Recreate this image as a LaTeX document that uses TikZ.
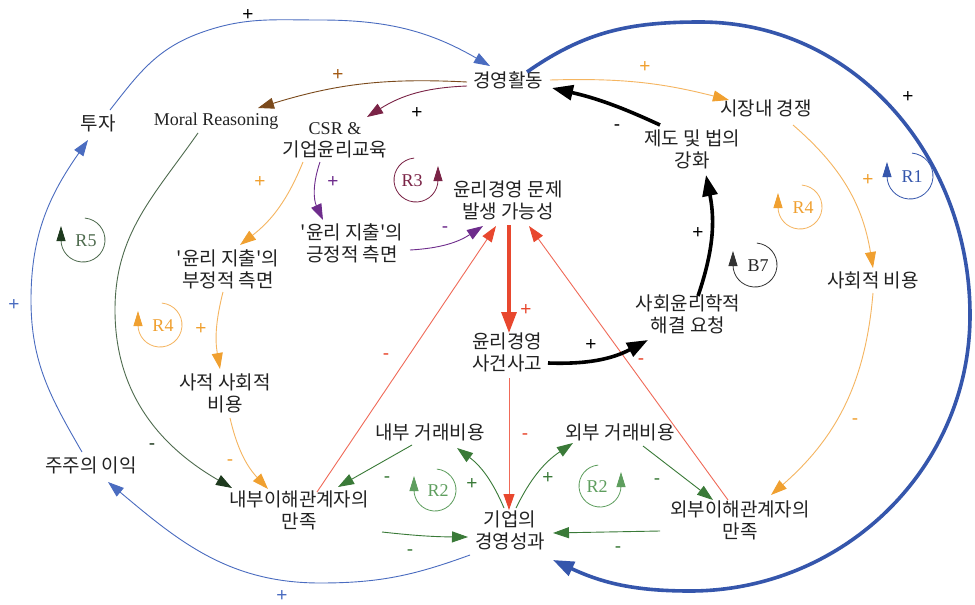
\documentclass[tikz,border=0pt]{standalone}
\usepackage{fontspec}
\setmainfont{Liberation Serif}
\setsansfont{Liberation Sans}
\newfontfamily\kr{Noto Sans CJK KR}
\usetikzlibrary{arrows.meta}
\definecolor{cblue}{HTML}{3556AC}
\definecolor{cbluel}{HTML}{4A6CC0}
\definecolor{cbrown}{HTML}{7B4A1C}
\definecolor{cmaroon}{HTML}{7A2346}
\definecolor{cpurple}{HTML}{6E2C8C}
\definecolor{corange}{HTML}{F0A030}
\definecolor{corangel}{HTML}{F5B560}
\definecolor{cdgreen}{HTML}{1E3A1E}
\definecolor{cdgreenl}{HTML}{4E6B4E}
\definecolor{cgreen}{HTML}{3A7A38}
\definecolor{cgreenl}{HTML}{5E9E5E}
\definecolor{cred}{HTML}{E8472E}
\definecolor{credl}{HTML}{F06A58}
\definecolor{ctext}{HTML}{222222}
\begin{document}
\begin{tikzpicture}[x=1pt,y=1pt,
 lab/.style={font=\kr\fontsize{19}{22}\selectfont, text=ctext, align=center, inner sep=0pt},
 lat/.style={font=\rmfamily\fontsize{18}{22}\selectfont, text=ctext, align=center, inner sep=0pt},
 pol/.style={font=\sffamily\fontsize{19}{19}\selectfont, inner sep=0pt},
 conn/.style={line width=0.9pt,-{Triangle[length=16pt,width=11pt]}},
 bigconn/.style={line width=3.6pt,-{Triangle[length=21pt,width=15pt]}},
 oconn/.style={line width=0.9pt, corangel, -{Triangle[length=16pt,width=11pt,color=corange]}},
 loopline/.style={line width=0.8pt,-{Triangle[length=15pt,width=9pt]}},
 looplab/.style={font=\rmfamily\fontsize{18}{18}\selectfont, inner sep=0pt},
]
\useasboundingbox (0,0) rectangle (975,-605);
\fill[white] (0,0) rectangle (975,-605);

% ---------- nodes ----------
\node[lab] (act) at (508,-80) {경영활동};
\node[lat] (moral) at (216,-121) {Moral Reasoning};
\node[lab] (csr) at (335,-140) {{\rmfamily\fontsize{18}{22}\selectfont CSR \&}\\기업윤리교육};
\node[lab] (prob) at (508,-200) {윤리경영 문제\\발생 가능성};
\node[lab] (pos) at (352,-243) {'윤리 지출'의\\긍정적 측면};
\node[lab] (neg) at (228,-269) {'윤리 지출'의\\부정적 측면};
\node[lab] (priv) at (225,-393) {사적 사회적\\비용};
\node[lab] (invest) at (98,-123) {투자};
\node[lab] (share) at (91,-465) {주주의 이익};
\node[lab] (intsat) at (299,-510) {내부이해관계자의\\만족};
\node[lab] (inttc) at (430,-432) {내부 거래비용};
\node[lab] (exttc) at (620,-432) {외부 거래비용};
\node[lab] (perf) at (510,-530) {기업의\\경영성과};
\node[lab] (extsat) at (740,-520) {외부이해관계자의\\만족};
\node[lab] (inc) at (507,-352) {윤리경영\\사건사고};
\node[lab] (req) at (688,-314) {사회윤리학적\\해결 요청};
\node[lab] (inst) at (692,-149) {제도 및 법의\\강화};
\node[lab] (comp) at (766,-108) {시장내 경쟁};
\node[lab] (soc) at (873,-280) {사회적 비용};

% waypoints
\coordinate (bw1) at (700,-22);
\coordinate (bw2) at (970,-315);
\coordinate (bw3) at (690,-591);
\coordinate (tw1) at (200,-33);
\coordinate (tw2) at (320,-20);
\coordinate (lw1) at (31,-300);
\coordinate (dw1) at (320,-583);
\coordinate (gw1) at (115,-310);

% ---------- blue loops ----------
\draw[bigconn, cblue] ([shift={(19,8)}]act.center) to[out=35,in=180] (bw1) to[out=0,in=90] (bw2) to[out=-90,in=0] (bw3) to[out=180,in=-25] ([shift={(43,-30)}]perf.center);
\draw[conn, cbluel] ([shift={(12,13)}]invest.center) to[out=52,in=-160] (tw1) to[out=20,in=180] (tw2) to[out=0,in=150] ([shift={(-18,14)}]act.center);
\draw[conn, cbluel] ([shift={(-9,13)}]share.center) to[out=120,in=-90] (lw1) to[out=90,in=-125] ([shift={(-10,-17)}]invest.center);
\draw[conn, cbluel] ([shift={(-40,-25)}]perf.center) to[out=-160,in=0] (dw1) to[out=180,in=-40] ([shift={(17,-17)}]share.center);

% ---------- top-left ----------
\draw[conn, cbrown] ([shift={(-41,-2)}]act.center) to[bend right=10] ([shift={(42,13)}]moral.center);
\draw[conn, cmaroon] ([shift={(-41,-6)}]act.center) to[bend right=15] ([shift={(32,23)}]csr.center);
\draw[conn, cdgreenl, -{Triangle[length=16pt,width=11pt,color=cdgreen]}] ([shift={(-18,-12)}]moral.center) to[out=-125,in=90] (gw1) to[out=-90,in=150] ([shift={(-67,22)}]intsat.center);
\draw[oconn] ([shift={(-32,-22)}]csr.center) to[bend left=15] ([shift={(12,24)}]neg.center);
\draw[conn, cpurple] ([shift={(-15,-22)}]csr.center) to[bend right=22] ([shift={(-29,23)}]pos.center);
\draw[conn, cpurple] ([shift={(58,-7)}]pos.center) to[bend right=15] ([shift={(-25,-26)}]prob.center);
\draw[oconn] ([shift={(-5,-23)}]neg.center) to[bend right=12] ([shift={(-5,24)}]priv.center);
\draw[oconn] ([shift={(5,-25)}]priv.center) to[bend right=15] ([shift={(-31,21)}]intsat.center);

% ---------- red ----------
\draw[conn, credl, -{Triangle[length=16pt,width=11pt,color=cred]}] ([shift={(18,18)}]intsat.center) -- ([shift={(-12,-26)}]prob.center);
\draw[conn, credl, -{Triangle[length=16pt,width=11pt,color=cred]}] ([shift={(-12,20)}]extsat.center) -- ([shift={(21,-26)}]prob.center);
\draw[bigconn, cred, line width=3.2pt] ([shift={(1,-25)}]prob.center) -- ([shift={(2,19)}]inc.center);
\draw[conn, credl, -{Triangle[length=16pt,width=11pt,color=cred]}] ([shift={(2,-26)}]inc.center) -- ([shift={(-1,20)}]perf.center);

% ---------- black ----------
\draw[bigconn, black] ([shift={(41,-11)}]inc.center) to[bend right=15] ([shift={(-40,-26)}]req.center);
\draw[bigconn, black] ([shift={(10,18)}]req.center) to[bend right=15] ([shift={(14,-26)}]inst.center);
\draw[bigconn, black] ([shift={(-32,24)}]inst.center) to[bend right=6] ([shift={(44,-8)}]act.center);

% ---------- orange right ----------
\draw[oconn] ([shift={(42,0)}]act.center) to[bend left=8] ([shift={(-37,8)}]comp.center);
\draw[oconn] ([shift={(27,-17)}]comp.center) to[bend left=20] ([shift={(0,12)}]soc.center);
\draw[oconn] ([shift={(0,-13)}]soc.center) to[bend left=22] ([shift={(31,25)}]extsat.center);

% ---------- green ----------
\draw[conn, cgreen] ([shift={(-18,-13)}]inttc.center) -- ([shift={(39,23)}]intsat.center);
\draw[conn, cgreen] ([shift={(-6,22)}]perf.center) to[bend right=15] ([shift={(27,-16)}]inttc.center);
\draw[conn, cgreen] ([shift={(6,22)}]perf.center) to[bend left=15] ([shift={(-47,-11)}]exttc.center);
\draw[conn, cgreen] ([shift={(23,-14)}]exttc.center) -- ([shift={(-27,20)}]extsat.center);
\draw[conn, cgreen] ([shift={(83,-22)}]intsat.center) to[bend right=3] ([shift={(-42,-7)}]perf.center);
\draw[conn, cgreen] ([shift={(-80,-11)}]extsat.center) -- ([shift={(43,-3)}]perf.center);

% ---------- polarity labels ----------
\node[pol, black] (s1) at (248,-15) {+};
\node[pol, black] (s2) at (908,-97) {+};
\node[pol, cbluel] (s3) at (14,-305) {+};
\node[pol, cbluel] (s4) at (282,-596) {+};
\node[pol, cbrown!70!orange] (s5) at (338,-75) {+};
\node[pol, black] (s6) at (417,-113) {+};
\node[pol, cdgreen] (s7) at (152,-447) {-};
\node[pol, corange] (s8) at (260,-182) {+};
\node[pol, cpurple] (s9) at (333,-182) {+};
\node[pol, cpurple] (s10) at (445,-230) {-};
\node[pol, corange] (s11) at (201,-329) {+};
\node[pol, corange] (s12) at (230,-463) {-};
\node[pol, cred] (s13) at (386,-357) {-};
\node[pol, cred] (s14) at (641,-362) {-};
\node[pol, cred] (s15) at (526,-310) {+};
\node[pol, cred] (s16) at (525,-437) {-};
\node[pol, black] (s17) at (591,-345) {+};
\node[pol, black] (s18) at (698,-233) {+};
\node[pol, black] (s19) at (617,-128) {-};
\node[pol, corange] (s20) at (645,-67) {+};
\node[pol, corange] (s21) at (868,-180) {+};
\node[pol, corange] (s22) at (855,-422) {-};
\node[pol, cgreen] (s23) at (387,-480) {-};
\node[pol, cgreen] (s24) at (472,-484) {+};
\node[pol, cgreen] (s25) at (548,-478) {+};
\node[pol, cgreen] (s26) at (657,-482) {-};
\node[pol, cgreen] (s27) at (410,-553) {-};
\node[pol, cgreen] (s28) at (618,-550) {-};

% ---------- loop markers ----------
\coordinate (c1) at (910,-176);
\node[looplab, cblue] (L1) at (912,-177) {R1};
\draw[loopline, cblue] ([shift={(85:23)}]c1) arc[start angle=85,end angle=-180,radius=23] -- ++(0,14);

\coordinate (c3) at (416,-180);
\node[looplab, cmaroon] (L3) at (412,-181) {R3};
\draw[loopline, cmaroon] ([shift={(95:22)}]c3) arc[start angle=95,end angle=360,radius=22] -- ++(0,14);

\coordinate (c4a) at (800,-207);
\node[looplab, corange] (L4a) at (803,-208) {R4};
\draw[loopline, corangel, -{Triangle[length=15pt,width=9pt,color=corange]}] ([shift={(85:22)}]c4a) arc[start angle=85,end angle=-180,radius=22] -- ++(0,14);

\coordinate (c7) at (755,-265);
\node[looplab, black!85] (L7) at (758,-266) {B7};
\draw[loopline, black!80] ([shift={(85:22)}]c7) arc[start angle=85,end angle=-180,radius=22] -- ++(0,14);

\coordinate (c5) at (83,-240);
\node[looplab, cdgreenl] (L5) at (86,-241) {R5};
\draw[loopline, cdgreenl, -{Triangle[length=15pt,width=9pt,color=cdgreen]}] ([shift={(85:22)}]c5) arc[start angle=85,end angle=-180,radius=22] -- ++(0,14);

\coordinate (c4b) at (160,-325);
\node[looplab, corange] (L4b) at (163,-326) {R4};
\draw[loopline, corangel, -{Triangle[length=15pt,width=9pt,color=corange]}] ([shift={(85:22)}]c4b) arc[start angle=85,end angle=-180,radius=22] -- ++(0,14);

\coordinate (c2a) at (435,-490);
\node[looplab, cgreenl] (L2a) at (438,-491) {R2};
\draw[loopline, cgreenl] ([shift={(85:21)}]c2a) arc[start angle=85,end angle=-180,radius=21] -- ++(0,14);

\coordinate (c2b) at (600,-486);
\node[looplab, cgreenl] (L2b) at (597,-487) {R2};
\draw[loopline, cgreenl] ([shift={(95:21)}]c2b) arc[start angle=95,end angle=360,radius=21] -- ++(0,14);
\end{tikzpicture}
\end{document}
